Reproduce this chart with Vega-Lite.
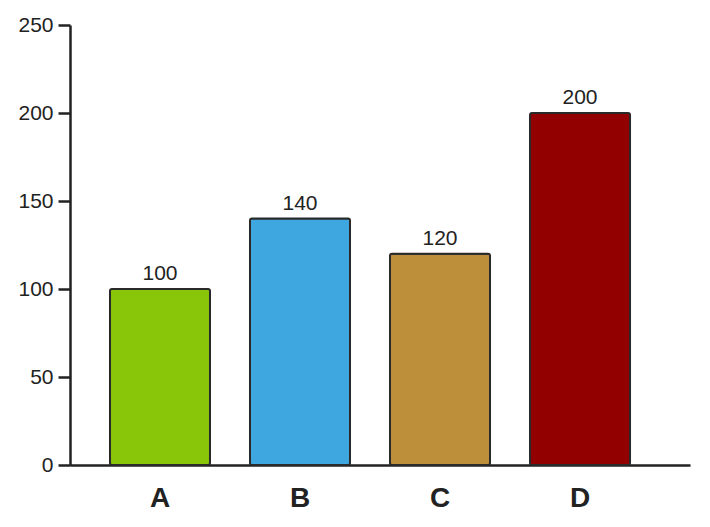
{
  "$schema": "https://vega.github.io/schema/vega-lite/v6.json",
  "width": 620,
  "height": 440,
  "autosize": {"type": "none"},
  "padding": {"left": 70, "top": 25, "right": 20, "bottom": 62},
  "background": "white",
  "config": {"view": {"stroke": null}, "font": "Liberation Sans"},
  "data": {"values": [
    {"cat": "A", "value": 100, "color": "#89c509"},
    {"cat": "B", "value": 140, "color": "#3ea7e0"},
    {"cat": "C", "value": 120, "color": "#bd8f3a"},
    {"cat": "D", "value": 200, "color": "#930000"}
  ]},
  "encoding": {
    "x": {"field": "cat", "type": "nominal", "title": null,
      "scale": {"paddingInner": 0.2857, "paddingOuter": 0.357, "align": 0.4},
      "axis": {"labelAngle": 0, "labelFont": "Liberation Sans", "labelFontSize": 28, "labelFontWeight": "bold", "labelColor": "#222", "labelPadding": 19, "ticks": false, "domainColor": "#222", "domainWidth": 2.5}},
    "y": {"field": "value", "type": "quantitative", "title": null,
      "scale": {"domain": [0, 250]},
      "axis": {"values": [0, 50, 100, 150, 200, 250], "grid": false, "labelFont": "Liberation Sans", "labelFontSize": 21, "labelColor": "#222", "labelPadding": 5, "tickSize": 12, "tickColor": "#222", "tickWidth": 2.5, "domainColor": "#222", "domainWidth": 2.5}}
  },
  "layer": [
    {"mark": {"type": "bar", "stroke": "#2a2a2a", "strokeWidth": 2, "cornerRadius": 2},
     "encoding": {"color": {"field": "color", "type": "nominal", "scale": null}}},
    {"mark": {"type": "text", "baseline": "alphabetic", "dy": -9, "fontSize": 21, "font": "Liberation Sans", "color": "#222"},
     "encoding": {"text": {"field": "value", "type": "quantitative"}}}
  ]
}
